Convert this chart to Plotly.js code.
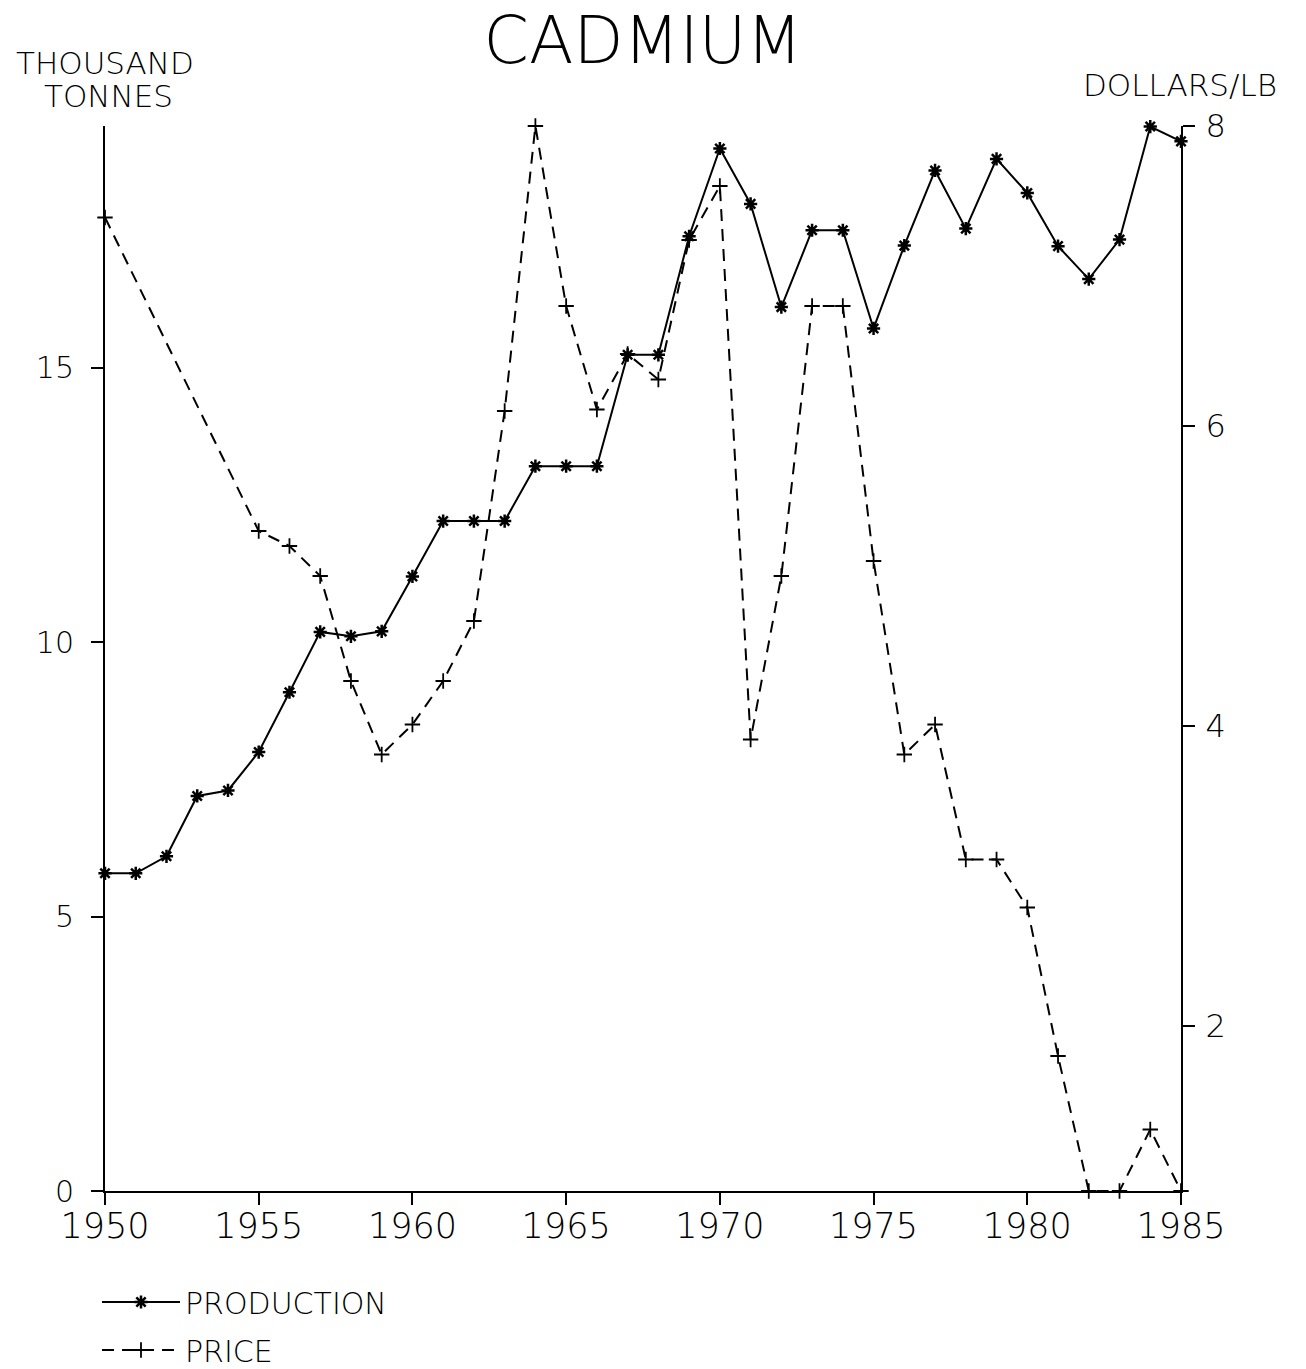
<!DOCTYPE html>
<html>
<head>
<meta charset="utf-8">
<script src="https://cdn.plot.ly/plotly-3.0.1.min.js"></script>
<style>
html, body { margin: 0; padding: 0; background: #fff; }
#chart { width: 1306px; height: 1369px; }
</style>
</head>
<body>
<div id="chart"></div>
<script>
// ---- Data ----
const years = [1950, 1951, 1952, 1953, 1954, 1955, 1956, 1957, 1958, 1959,
               1960, 1961, 1962, 1963, 1964, 1965, 1966, 1967, 1968, 1969,
               1970, 1971, 1972, 1973, 1974, 1975, 1976, 1977, 1978, 1979,
               1980, 1981, 1982, 1983, 1984, 1985];
// Production, thousand tonnes (left axis)
const production = [5.79, 5.79, 6.10, 7.20, 7.30, 8.00, 9.09, 10.19, 10.11, 10.20,
                    11.20, 12.21, 12.21, 12.21, 13.21, 13.21, 13.21, 15.24, 15.24, 17.40,
                    19.00, 17.99, 16.11, 17.51, 17.51, 15.72, 17.23, 18.60, 17.54, 18.81,
                    18.19, 17.22, 16.62, 17.34, 19.40, 19.13];
// Price, dollars per lb (right axis)
const priceYears = [1950, 1955, 1956, 1957, 1958, 1959,
                    1960, 1961, 1962, 1963, 1964, 1965, 1966, 1967, 1968, 1969,
                    1970, 1971, 1972, 1973, 1974, 1975, 1976, 1977, 1978, 1979,
                    1980, 1981, 1982, 1983, 1984, 1985];
const price = [7.39, 5.30, 5.20, 5.00, 4.30, 3.81,
               4.01, 4.30, 4.70, 6.10, 8.00, 6.80, 6.11, 6.48, 6.31, 7.24,
               7.60, 3.91, 5.00, 6.80, 6.80, 5.10, 3.81, 4.01, 3.11, 3.11,
               2.79, 1.80, 0.90, 0.90, 1.31, 0.90];

const xTicks = [1950, 1955, 1960, 1965, 1970, 1975, 1980, 1985];
const leftTicks = [0, 5, 10, 15];
const rightTicks = [2, 4, 6, 8];

const titleText = 'CADMIUM';
const leftUnitLines = ['THOUSAND', 'TONNES'];
const rightUnit = 'DOLLARS/LB';
const seriesNames = ['PRODUCTION', 'PRICE'];

// ---- Chart ----
const FONT = 'DejaVu Sans, Liberation Sans, sans-serif';
const ink = '#000000';
const W = 1306, H = 1369;
const plotTop = 126, plotBottom = 1191, plotLeft = 105, plotRight = 1181;
const plotH = plotBottom - plotTop, plotW = plotRight - plotLeft;
const py = (pix) => (plotBottom - pix) / plotH;   // pixel row -> paper y
const px = (pix) => (pix - plotLeft) / plotW;     // pixel col -> paper x

const traces = [
  {
    x: years, y: production, name: seriesNames[0], type: 'scatter', mode: 'lines+markers',
    yaxis: 'y', legendgroup: 'a', cliponaxis: false,
    line: { color: ink, width: 2 },
    marker: { symbol: 'asterisk-open', size: 11, color: ink, line: { color: ink, width: 2.5 } }
  },
  {
    x: priceYears, y: price, name: seriesNames[1], type: 'scatter', mode: 'lines+markers',
    yaxis: 'y2', legendgroup: 'b', cliponaxis: false,
    line: { color: ink, width: 2, dash: '12px,8px' },
    marker: { symbol: 'cross-thin-open', size: 11, color: ink, line: { color: ink, width: 1.8 } }
  }
];

const unitFont = { family: FONT, size: 31, color: ink, weight: 300 };

const layout = {
  width: W, height: H,
  paper_bgcolor: '#ffffff', plot_bgcolor: '#ffffff',
  margin: { l: plotLeft, r: W - plotRight, t: plotTop, b: H - plotBottom, pad: 0, autoexpand: false },
  font: { family: FONT, color: ink, weight: 300 },
  title: {
    text: titleText, font: { family: FONT, size: 65, color: ink, weight: 300 },
    x: 0.5, xref: 'paper', xanchor: 'center',
    y: 1 - 40 / H, yref: 'container', yanchor: 'middle'
  },
  showlegend: true,
  legend: {
    orientation: 'v', traceorder: 'grouped', tracegroupgap: 6, itemwidth: 78,
    x: px(97), xref: 'paper', xanchor: 'left',
    y: py(1276), yref: 'paper', yanchor: 'top',
    font: { family: FONT, size: 30, color: ink, weight: 300 },
    bgcolor: 'rgba(0,0,0,0)', borderwidth: 0
  },
  xaxis: {
    range: [1950, 1985], tickvals: xTicks, ticktext: xTicks.map(String),
    showgrid: false, zeroline: false, showline: true, linecolor: ink, linewidth: 2,
    ticks: 'outside', ticklen: 12, tickwidth: 2, tickcolor: ink,
    ticklabelstandoff: -9, automargin: false,
    tickfont: { family: FONT, size: 35, color: ink, weight: 300 }
  },
  yaxis: {
    range: [0, 19.41], tickvals: leftTicks, ticktext: leftTicks.map(String),
    showgrid: false, zeroline: false, showline: true, linecolor: ink, linewidth: 2,
    ticks: 'outside', ticklen: 12, tickwidth: 2, tickcolor: ink,
    ticklabelstandoff: 11, automargin: false,
    tickfont: { family: FONT, size: 30, color: ink, weight: 300 }
  },
  yaxis2: {
    range: [0.9, 8], tickvals: rightTicks, ticktext: rightTicks.map(String),
    overlaying: 'y', side: 'right',
    showgrid: false, zeroline: false, showline: true, linecolor: ink, linewidth: 2,
    ticks: 'outside', ticklen: 12, tickwidth: 2, tickcolor: ink,
    ticklabelstandoff: 4, automargin: false,
    tickfont: { family: FONT, size: 32, color: ink, weight: 300 }
  },
  annotations: [
    {
      text: leftUnitLines[0], xref: 'paper', yref: 'paper', x: 0, y: py(63),
      xanchor: 'center', yanchor: 'middle', showarrow: false, font: unitFont
    },
    {
      text: leftUnitLines[1], xref: 'paper', yref: 'paper', x: px(108), y: py(96),
      xanchor: 'center', yanchor: 'middle', showarrow: false, font: unitFont
    },
    {
      text: rightUnit, xref: 'paper', yref: 'paper', x: px(1180), y: py(85),
      xanchor: 'center', yanchor: 'middle', showarrow: false, font: unitFont
    }
  ]
};

Plotly.newPlot('chart', traces, layout, { displayModeBar: false, staticPlot: true });
</script>
</body>
</html>
